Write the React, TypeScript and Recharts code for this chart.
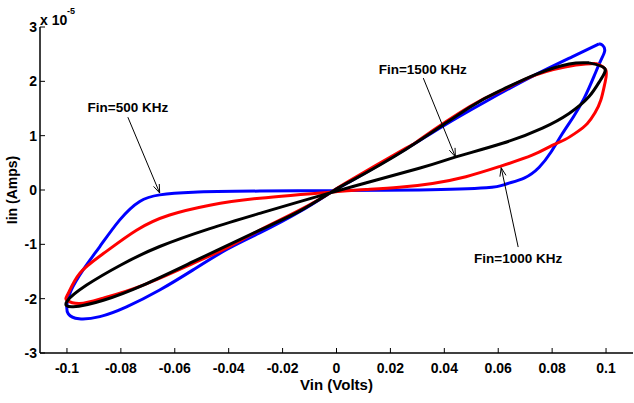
import React from 'react';
import { LineChart, Line, XAxis, YAxis } from 'recharts';

// hysteresis loops, Vin (V) vs Iin (x1e-5 A), traced around each loop
const blue500 = [
  { x: 0.0974, y: 2.69 }, { x: 0.0874, y: 2.45 }, { x: 0.0726, y: 2.09 }, { x: 0.0554, y: 1.63 },
  { x: 0.0393, y: 1.17 }, { x: 0.0233, y: 0.68 }, { x: 0.0048, y: 0.15 }, { x: -0.002, y: -0.04 },
  { x: -0.0137, y: -0.4 }, { x: -0.0285, y: -0.79 }, { x: -0.0409, y: -1.1 }, { x: -0.0532, y: -1.47 },
  { x: -0.0656, y: -1.84 }, { x: -0.0779, y: -2.15 }, { x: -0.0878, y: -2.33 }, { x: -0.0955, y: -2.37 },
  { x: -0.0995, y: -2.28 }, { x: -0.1, y: -2.1 }, { x: -0.0985, y: -1.85 }, { x: -0.094, y: -1.47 },
  { x: -0.0878, y: -1.04 }, { x: -0.0804, y: -0.55 }, { x: -0.073, y: -0.21 }, { x: -0.0656, y: -0.09 },
  { x: -0.0532, y: -0.04 }, { x: -0.0285, y: -0.02 }, { x: 0, y: -0.01 }, { x: 0.0307, y: 0.0 },
  { x: 0.0556, y: 0.04 }, { x: 0.063, y: 0.11 }, { x: 0.0696, y: 0.22 }, { x: 0.0752, y: 0.42 },
  { x: 0.0796, y: 0.7 }, { x: 0.0837, y: 1.03 }, { x: 0.0878, y: 1.34 }, { x: 0.0919, y: 1.69 },
  { x: 0.0956, y: 2.1 }, { x: 0.0981, y: 2.39 }, { x: 0.0995, y: 2.56 }, { x: 0.0988, y: 2.66 },
  { x: 0.0974, y: 2.69 },
];

const red1000 = [
  { x: 0.0962, y: 2.33 }, { x: 0.0888, y: 2.3 }, { x: 0.074, y: 2.12 }, { x: 0.0616, y: 1.84 },
  { x: 0.0493, y: 1.53 }, { x: 0.0307, y: 0.92 }, { x: 0.0258, y: 0.77 }, { x: 0.0048, y: 0.17 },
  { x: -0.002, y: -0.04 }, { x: -0.0137, y: -0.37 }, { x: -0.0285, y: -0.74 }, { x: -0.0409, y: -1.07 },
  { x: -0.0532, y: -1.35 }, { x: -0.0717, y: -1.75 }, { x: -0.0865, y: -1.99 }, { x: -0.0952, y: -2.09 },
  { x: -0.1, y: -2.03 }, { x: -0.0995, y: -1.9 }, { x: -0.0952, y: -1.53 }, { x: -0.0865, y: -1.17 },
  { x: -0.0742, y: -0.74 }, { x: -0.0619, y: -0.46 }, { x: -0.047, y: -0.28 }, { x: -0.0285, y: -0.15 },
  { x: 0, y: -0.03 }, { x: 0.011, y: 0.01 }, { x: 0.0233, y: 0.05 }, { x: 0.0356, y: 0.12 },
  { x: 0.048, y: 0.245 }, { x: 0.0604, y: 0.43 }, { x: 0.0726, y: 0.64 }, { x: 0.08, y: 0.82 },
  { x: 0.0848, y: 0.93 }, { x: 0.0893, y: 1.07 }, { x: 0.093, y: 1.22 }, { x: 0.0959, y: 1.42 },
  { x: 0.0981, y: 1.66 }, { x: 0.0996, y: 1.97 }, { x: 0.0999, y: 2.21 }, { x: 0.0962, y: 2.33 },
];

const black1500 = [
  { x: 0.0937, y: 2.34 }, { x: 0.0863, y: 2.32 }, { x: 0.074, y: 2.13 }, { x: 0.0616, y: 1.85 },
  { x: 0.0493, y: 1.52 }, { x: 0.0258, y: 0.75 }, { x: 0.0048, y: 0.15 }, { x: -0.002, y: -0.04 },
  { x: -0.0137, y: -0.39 }, { x: -0.0285, y: -0.74 }, { x: -0.0532, y: -1.32 }, { x: -0.0717, y: -1.75 },
  { x: -0.0865, y: -2.03 }, { x: -0.0977, y: -2.15 }, { x: -0.1, y: -2.05 }, { x: -0.0927, y: -1.75 },
  { x: -0.08, y: -1.38 }, { x: -0.0656, y: -1.04 }, { x: -0.047, y: -0.71 }, { x: -0.0285, y: -0.43 },
  { x: 0, y: -0.02 }, { x: 0.0307, y: 0.4 }, { x: 0.0443, y: 0.61 }, { x: 0.0616, y: 0.86 },
  { x: 0.0764, y: 1.14 }, { x: 0.0863, y: 1.41 }, { x: 0.0937, y: 1.72 }, { x: 0.098, y: 2.03 },
  { x: 0.0995, y: 2.24 }, { x: 0.0937, y: 2.34 },
];

const xTicks = [-0.1, -0.08, -0.06, -0.04, -0.02, 0, 0.02, 0.04, 0.06, 0.08, 0.1];
const yTicks = [-3, -2, -1, 0, 1, 2, 3];

// annotation: label position and arrow (from -> to), in data units
const notes = [
  { text: 'Fin=500 KHz', tx: -0.0774, ty: 1.53, from: [-0.0774, 1.34], to: [-0.0656, -0.055] },
  { text: 'Fin=1500 KHz', tx: 0.032, ty: 2.23, from: [0.0322, 2.06], to: [0.0441, 0.61] },
  { text: 'Fin=1000 KHz', tx: 0.0674, ty: -1.25, from: [0.0674, -1.05], to: [0.0611, 0.41] },
];

const W = 634;
const H = 403;
const L = 40, R = 633, T = 27, B = 353;
const font = '"Liberation Sans", Arial, sans-serif';

const px = (x: number) => L + ((x + 0.11) / 0.22) * (R - L);
const py = (y: number) => B - ((y + 3) / 6) * (B - T);

const fmt = (v: number) => (v === 0 ? '0' : String(v));

const BottomTick = (p: any) => (
  <g>
    <line x1={p.x} y1={p.y} x2={p.x} y2={p.y - 5} stroke="#000" strokeWidth={1} />
    <text x={p.x} y={p.y + 20} textAnchor="middle" fontFamily={font} fontWeight="bold" fontSize={14} fill="#000">
      {fmt(p.payload.value)}
    </text>
  </g>
);

const LeftTick = (p: any) => (
  <g>
    <line x1={p.x} y1={p.y} x2={p.x + 5} y2={p.y} stroke="#000" strokeWidth={1} />
    <text x={p.x - 3} y={p.y + 5} textAnchor="end" fontFamily={font} fontWeight="bold" fontSize={14} fill="#000">
      {p.payload.value}
    </text>
  </g>
);

const TopTick = (p: any) => (
  <line x1={p.x} y1={T} x2={p.x} y2={T + 5} stroke="#000" strokeWidth={1} />
);

const RightTick = (p: any) => (
  <line x1={R} y1={p.y} x2={R - 5} y2={p.y} stroke="#000" strokeWidth={1} />
);

const Arrow = ({ from, to }: { from: number[]; to: number[] }) => {
  const x1 = px(from[0]), y1 = py(from[1]), x2 = px(to[0]), y2 = py(to[1]);
  const a = Math.atan2(y2 - y1, x2 - x1);
  const len = 9, sp = 0.35;
  const h1 = [x2 - len * Math.cos(a - sp), y2 - len * Math.sin(a - sp)];
  const h2 = [x2 - len * Math.cos(a + sp), y2 - len * Math.sin(a + sp)];
  return (
    <g stroke="#000" strokeWidth={1} fill="none">
      <line x1={x1} y1={y1} x2={x2} y2={y2} />
      <polyline points={`${h1[0]},${h1[1]} ${x2},${y2} ${h2[0]},${h2[1]}`} />
    </g>
  );
};

export default function App() {
  return (
    <div style={{ position: 'fixed', left: 0, top: 0, width: W, height: H, background: '#fff' }}>
      <LineChart width={W} height={H} margin={{ top: T, right: W - R, left: 0, bottom: 0 }}>
        <XAxis
          dataKey="x"
          type="number"
          domain={[-0.11, 0.11]}
          ticks={xTicks}
          allowDataOverflow
          height={H - B}
          tickSize={0}
          tickMargin={0}
          tickLine={false}
          axisLine={{ stroke: '#000', strokeWidth: 1.5 }}
          tick={<BottomTick />}
          interval={0}
        />
        <XAxis
          xAxisId="top"
          orientation="top"
          dataKey="x"
          type="number"
          domain={[-0.11, 0.11]}
          ticks={xTicks}
          allowDataOverflow
          height={0}
          tickSize={0}
          tickMargin={0}
          tickLine={false}
          axisLine={{ stroke: '#000', strokeWidth: 1.5 }}
          tick={<TopTick />}
          interval={0}
        />
        <YAxis
          type="number"
          domain={[-3, 3]}
          ticks={yTicks}
          allowDataOverflow
          width={L}
          tickSize={0}
          tickMargin={0}
          tickLine={false}
          axisLine={{ stroke: '#000', strokeWidth: 1.5 }}
          tick={<LeftTick />}
          interval={0}
        />
        <YAxis
          yAxisId="right"
          orientation="right"
          type="number"
          domain={[-3, 3]}
          ticks={yTicks}
          allowDataOverflow
          width={0}
          tickSize={0}
          tickMargin={0}
          tickLine={false}
          axisLine={{ stroke: '#555', strokeWidth: 1 }}
          tick={<RightTick />}
          interval={0}
        />
        <Line data={blue500} dataKey="y" type="natural" stroke="#0000ff" strokeWidth={3} dot={false} isAnimationActive={false} />
        <Line data={red1000} dataKey="y" type="natural" stroke="#ff0000" strokeWidth={3} dot={false} isAnimationActive={false} />
        <Line data={black1500} dataKey="y" type="natural" stroke="#000000" strokeWidth={3} dot={false} isAnimationActive={false} />
      </LineChart>
      <svg width={W} height={H} style={{ position: 'absolute', left: 0, top: 0, pointerEvents: 'none' }}>
        <text x={L} y={25} fontFamily={font} fontWeight="bold" fontSize={14} fill="#000">x 10</text>
        <text x={67} y={14} fontFamily={font} fontWeight="bold" fontSize={9} fill="#000">-5</text>
        <text
          transform={`translate(17, ${(T + B) / 2}) rotate(-90)`}
          textAnchor="middle"
          fontFamily={font}
          fontWeight="bold"
          fontSize={14}
          fill="#000"
        >
          Iin (Amps)
        </text>
        <text x={(L + R) / 2} y={390} textAnchor="middle" fontFamily={font} fontWeight="bold" fontSize={15} fill="#000">
          Vin (Volts)
        </text>
        {notes.map((n) => (
          <g key={n.text}>
            <text x={px(n.tx)} y={py(n.ty) + 5} textAnchor="middle" fontFamily={font} fontWeight="bold" fontSize={13.5} fill="#000">
              {n.text}
            </text>
            <Arrow from={n.from} to={n.to} />
          </g>
        ))}
      </svg>
    </div>
  );
}
